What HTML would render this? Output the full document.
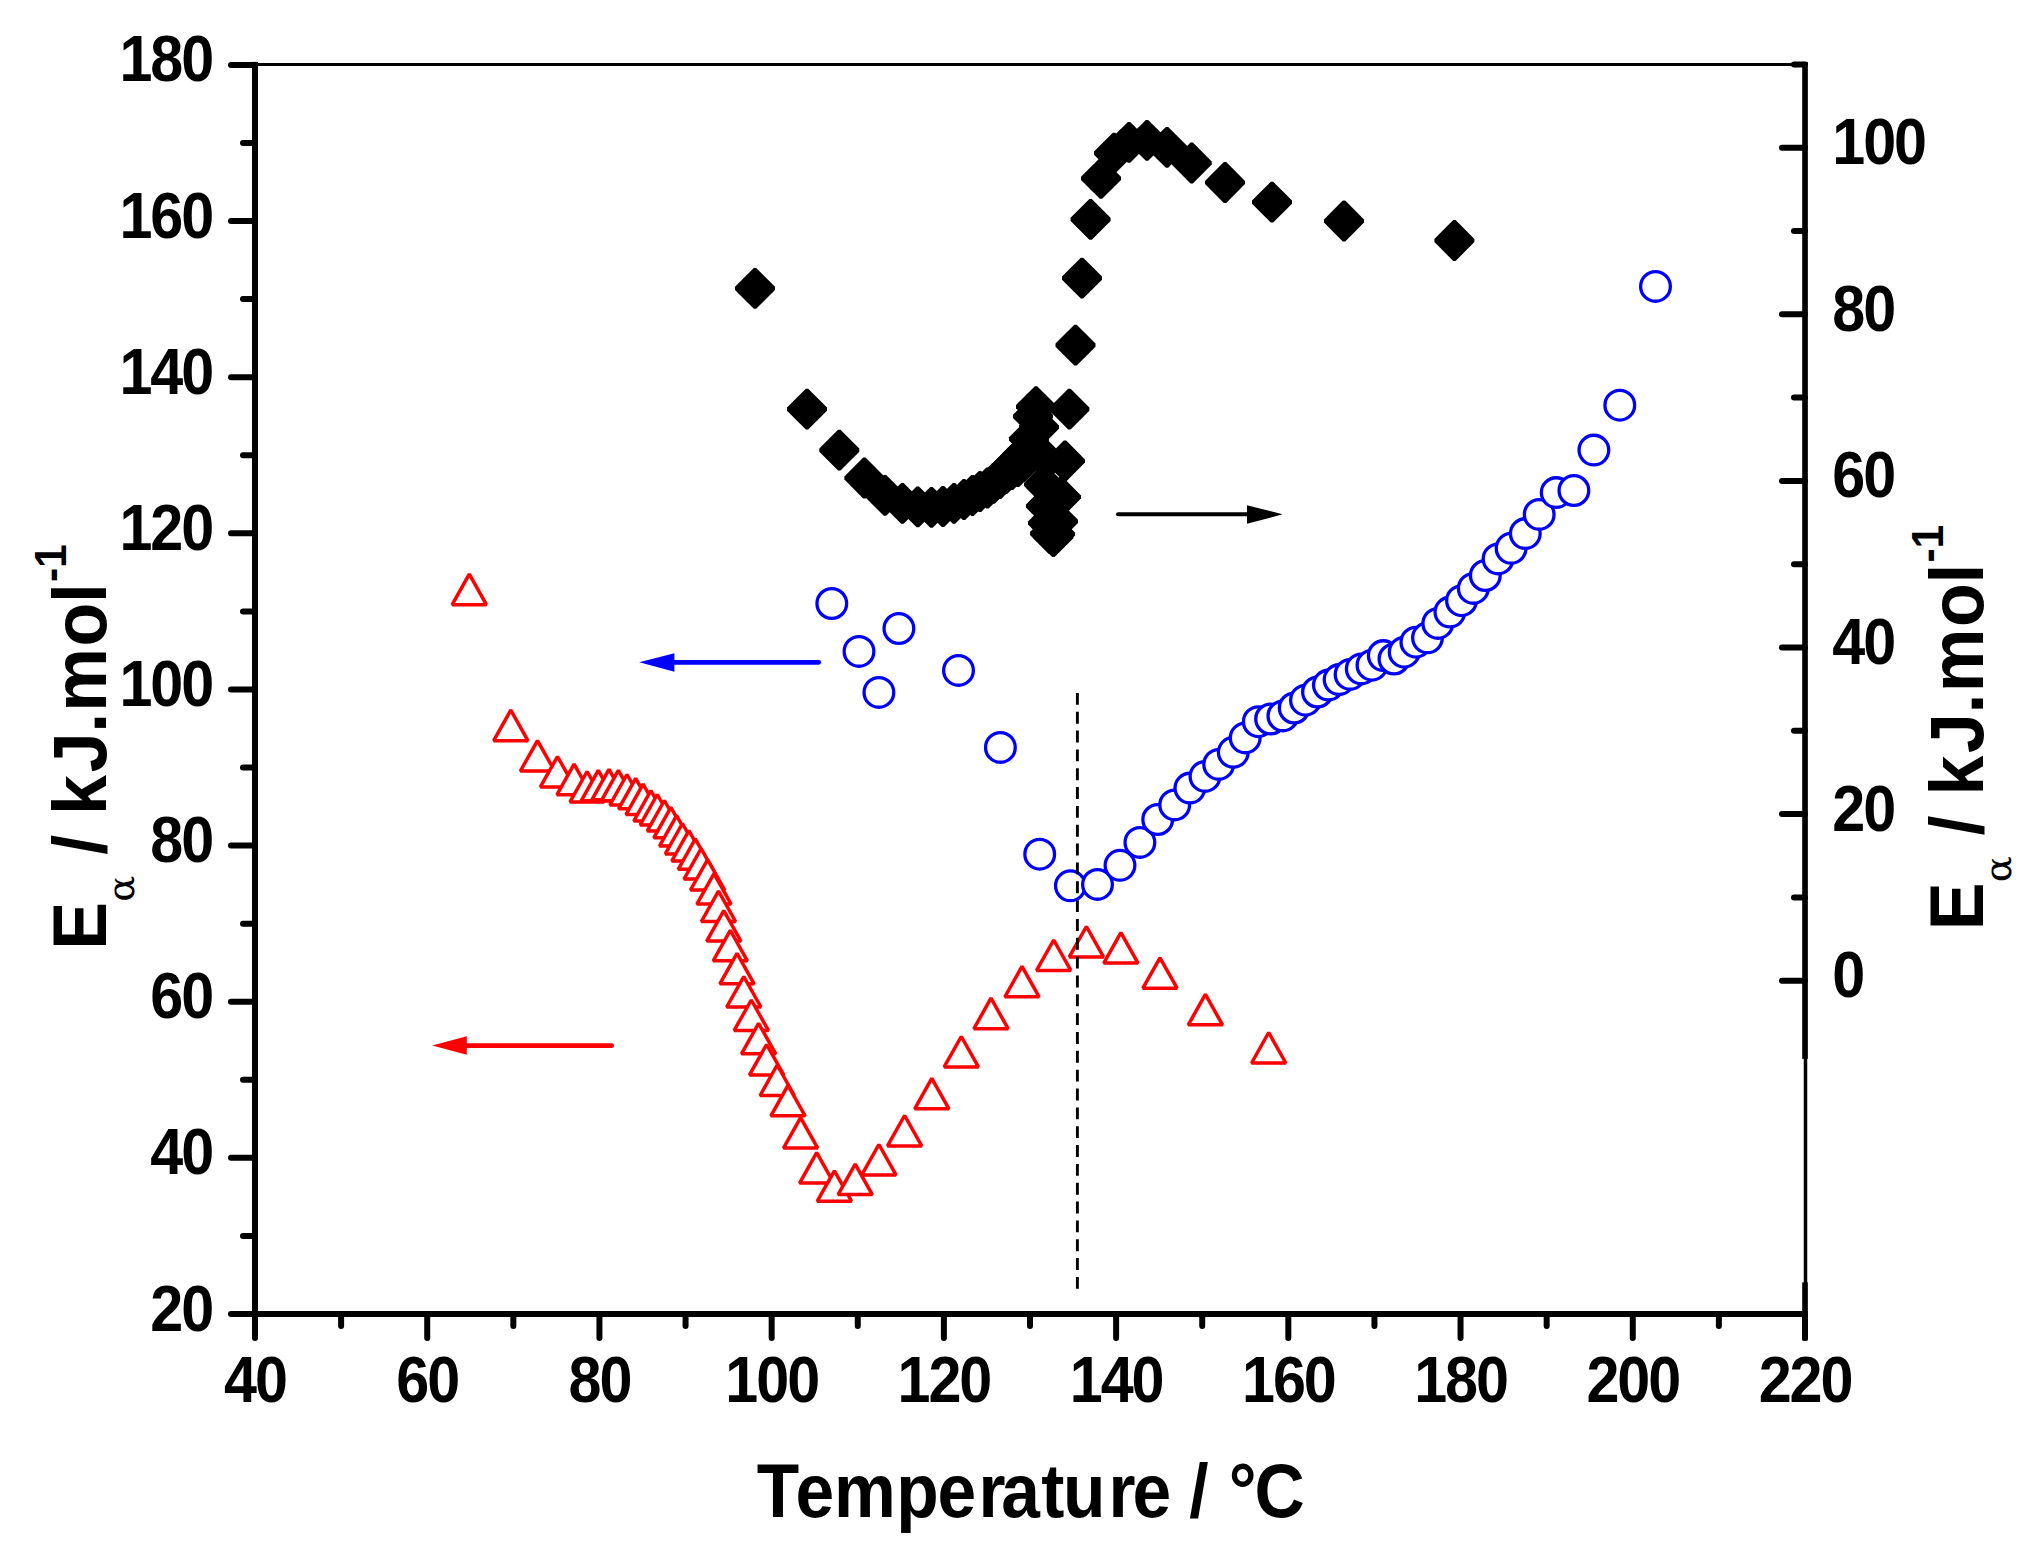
<!DOCTYPE html>
<html><head><meta charset="utf-8"><title>Activation energy vs temperature</title>
<style>
html,body{margin:0;padding:0;background:#fff;}
svg{display:block;}
.lab{font-family:"Liberation Sans",Arial,sans-serif;font-weight:bold;font-size:64.0px;fill:#000;}
.ttl{font-family:"Liberation Sans",Arial,sans-serif;font-weight:bold;font-size:75px;fill:#000;}
.sub{font-family:"DejaVu Serif","Liberation Serif",serif;font-weight:normal;}
.sup{}
</style></head>
<body>
<svg width="2043" height="1552" viewBox="0 0 2043 1552">
<rect width="2043" height="1552" fill="#fff"/>
<line x1="255" y1="64.6" x2="1805" y2="64.6" stroke="#000" stroke-width="3"/>
<line x1="1805.5" y1="62" x2="1805.5" y2="1314" stroke="#000" stroke-width="3.5"/>
<rect x="252" y="61.9" width="6" height="1255.1" fill="#000"/>
<rect x="252" y="1311" width="1556" height="6" fill="#000"/>
<rect x="1802.2" y="61.9" width="5.6" height="997" fill="#000"/>
<rect x="1802.2" y="1282.4" width="5.6" height="58" fill="#000"/>
<line x1="231" y1="1314.00" x2="255" y2="1314.00" stroke="#000" stroke-width="6" stroke-linecap="round"/>
<line x1="243" y1="1235.93" x2="255" y2="1235.93" stroke="#000" stroke-width="6" stroke-linecap="round"/>
<line x1="231" y1="1157.86" x2="255" y2="1157.86" stroke="#000" stroke-width="6" stroke-linecap="round"/>
<line x1="243" y1="1079.79" x2="255" y2="1079.79" stroke="#000" stroke-width="6" stroke-linecap="round"/>
<line x1="231" y1="1001.72" x2="255" y2="1001.72" stroke="#000" stroke-width="6" stroke-linecap="round"/>
<line x1="243" y1="923.65" x2="255" y2="923.65" stroke="#000" stroke-width="6" stroke-linecap="round"/>
<line x1="231" y1="845.59" x2="255" y2="845.59" stroke="#000" stroke-width="6" stroke-linecap="round"/>
<line x1="243" y1="767.52" x2="255" y2="767.52" stroke="#000" stroke-width="6" stroke-linecap="round"/>
<line x1="231" y1="689.45" x2="255" y2="689.45" stroke="#000" stroke-width="6" stroke-linecap="round"/>
<line x1="243" y1="611.38" x2="255" y2="611.38" stroke="#000" stroke-width="6" stroke-linecap="round"/>
<line x1="231" y1="533.31" x2="255" y2="533.31" stroke="#000" stroke-width="6" stroke-linecap="round"/>
<line x1="243" y1="455.24" x2="255" y2="455.24" stroke="#000" stroke-width="6" stroke-linecap="round"/>
<line x1="231" y1="377.17" x2="255" y2="377.17" stroke="#000" stroke-width="6" stroke-linecap="round"/>
<line x1="243" y1="299.10" x2="255" y2="299.10" stroke="#000" stroke-width="6" stroke-linecap="round"/>
<line x1="231" y1="221.03" x2="255" y2="221.03" stroke="#000" stroke-width="6" stroke-linecap="round"/>
<line x1="243" y1="142.97" x2="255" y2="142.97" stroke="#000" stroke-width="6" stroke-linecap="round"/>
<line x1="231" y1="64.90" x2="255" y2="64.90" stroke="#000" stroke-width="6" stroke-linecap="round"/>
<line x1="255.00" y1="1314" x2="255.00" y2="1338" stroke="#000" stroke-width="6" stroke-linecap="round"/>
<line x1="341.11" y1="1314" x2="341.11" y2="1326" stroke="#000" stroke-width="6" stroke-linecap="round"/>
<line x1="427.22" y1="1314" x2="427.22" y2="1338" stroke="#000" stroke-width="6" stroke-linecap="round"/>
<line x1="513.33" y1="1314" x2="513.33" y2="1326" stroke="#000" stroke-width="6" stroke-linecap="round"/>
<line x1="599.44" y1="1314" x2="599.44" y2="1338" stroke="#000" stroke-width="6" stroke-linecap="round"/>
<line x1="685.56" y1="1314" x2="685.56" y2="1326" stroke="#000" stroke-width="6" stroke-linecap="round"/>
<line x1="771.67" y1="1314" x2="771.67" y2="1338" stroke="#000" stroke-width="6" stroke-linecap="round"/>
<line x1="857.78" y1="1314" x2="857.78" y2="1326" stroke="#000" stroke-width="6" stroke-linecap="round"/>
<line x1="943.89" y1="1314" x2="943.89" y2="1338" stroke="#000" stroke-width="6" stroke-linecap="round"/>
<line x1="1030.00" y1="1314" x2="1030.00" y2="1326" stroke="#000" stroke-width="6" stroke-linecap="round"/>
<line x1="1116.11" y1="1314" x2="1116.11" y2="1338" stroke="#000" stroke-width="6" stroke-linecap="round"/>
<line x1="1202.22" y1="1314" x2="1202.22" y2="1326" stroke="#000" stroke-width="6" stroke-linecap="round"/>
<line x1="1288.33" y1="1314" x2="1288.33" y2="1338" stroke="#000" stroke-width="6" stroke-linecap="round"/>
<line x1="1374.44" y1="1314" x2="1374.44" y2="1326" stroke="#000" stroke-width="6" stroke-linecap="round"/>
<line x1="1460.55" y1="1314" x2="1460.55" y2="1338" stroke="#000" stroke-width="6" stroke-linecap="round"/>
<line x1="1546.66" y1="1314" x2="1546.66" y2="1326" stroke="#000" stroke-width="6" stroke-linecap="round"/>
<line x1="1632.78" y1="1314" x2="1632.78" y2="1338" stroke="#000" stroke-width="6" stroke-linecap="round"/>
<line x1="1718.89" y1="1314" x2="1718.89" y2="1326" stroke="#000" stroke-width="6" stroke-linecap="round"/>
<line x1="1805.00" y1="1314" x2="1805.00" y2="1338" stroke="#000" stroke-width="6" stroke-linecap="round"/>
<line x1="1782" y1="980.70" x2="1805" y2="980.70" stroke="#000" stroke-width="6" stroke-linecap="round"/>
<line x1="1794" y1="897.40" x2="1805" y2="897.40" stroke="#000" stroke-width="6" stroke-linecap="round"/>
<line x1="1782" y1="814.10" x2="1805" y2="814.10" stroke="#000" stroke-width="6" stroke-linecap="round"/>
<line x1="1794" y1="730.80" x2="1805" y2="730.80" stroke="#000" stroke-width="6" stroke-linecap="round"/>
<line x1="1782" y1="647.50" x2="1805" y2="647.50" stroke="#000" stroke-width="6" stroke-linecap="round"/>
<line x1="1794" y1="564.20" x2="1805" y2="564.20" stroke="#000" stroke-width="6" stroke-linecap="round"/>
<line x1="1782" y1="480.90" x2="1805" y2="480.90" stroke="#000" stroke-width="6" stroke-linecap="round"/>
<line x1="1794" y1="397.60" x2="1805" y2="397.60" stroke="#000" stroke-width="6" stroke-linecap="round"/>
<line x1="1782" y1="314.30" x2="1805" y2="314.30" stroke="#000" stroke-width="6" stroke-linecap="round"/>
<line x1="1794" y1="231.00" x2="1805" y2="231.00" stroke="#000" stroke-width="6" stroke-linecap="round"/>
<line x1="1782" y1="147.70" x2="1805" y2="147.70" stroke="#000" stroke-width="6" stroke-linecap="round"/>
<line x1="1794" y1="64.40" x2="1805" y2="64.40" stroke="#000" stroke-width="6" stroke-linecap="round"/>
<text transform="translate(212.20,1330.50) scale(0.926,1)" text-anchor="end" class="lab" style="letter-spacing:-2.2px">20</text>
<text transform="translate(212.20,1174.36) scale(0.926,1)" text-anchor="end" class="lab" style="letter-spacing:-2.2px">40</text>
<text transform="translate(212.20,1018.22) scale(0.926,1)" text-anchor="end" class="lab" style="letter-spacing:-2.2px">60</text>
<text transform="translate(212.20,862.09) scale(0.926,1)" text-anchor="end" class="lab" style="letter-spacing:-2.2px">80</text>
<text transform="translate(212.20,705.95) scale(0.926,1)" text-anchor="end" class="lab" style="letter-spacing:-2.2px">100</text>
<text transform="translate(212.20,549.81) scale(0.926,1)" text-anchor="end" class="lab" style="letter-spacing:-2.2px">120</text>
<text transform="translate(212.20,393.67) scale(0.926,1)" text-anchor="end" class="lab" style="letter-spacing:-2.2px">140</text>
<text transform="translate(212.20,237.53) scale(0.926,1)" text-anchor="end" class="lab" style="letter-spacing:-2.2px">160</text>
<text transform="translate(212.20,81.40) scale(0.926,1)" text-anchor="end" class="lab" style="letter-spacing:-2.2px">180</text>
<text transform="translate(255.00,1401.50) scale(0.926,1)" text-anchor="middle" class="lab" style="letter-spacing:-2.2px">40</text>
<text transform="translate(427.22,1401.50) scale(0.926,1)" text-anchor="middle" class="lab" style="letter-spacing:-2.2px">60</text>
<text transform="translate(599.44,1401.50) scale(0.926,1)" text-anchor="middle" class="lab" style="letter-spacing:-2.2px">80</text>
<text transform="translate(771.67,1401.50) scale(0.926,1)" text-anchor="middle" class="lab" style="letter-spacing:-2.2px">100</text>
<text transform="translate(943.89,1401.50) scale(0.926,1)" text-anchor="middle" class="lab" style="letter-spacing:-2.2px">120</text>
<text transform="translate(1116.11,1401.50) scale(0.926,1)" text-anchor="middle" class="lab" style="letter-spacing:-2.2px">140</text>
<text transform="translate(1288.33,1401.50) scale(0.926,1)" text-anchor="middle" class="lab" style="letter-spacing:-2.2px">160</text>
<text transform="translate(1460.55,1401.50) scale(0.926,1)" text-anchor="middle" class="lab" style="letter-spacing:-2.2px">180</text>
<text transform="translate(1632.78,1401.50) scale(0.926,1)" text-anchor="middle" class="lab" style="letter-spacing:-2.2px">200</text>
<text transform="translate(1805.00,1401.50) scale(0.926,1)" text-anchor="middle" class="lab" style="letter-spacing:-2.2px">220</text>
<text transform="translate(1832.30,997.10) scale(0.926,1)" text-anchor="start" class="lab" style="letter-spacing:-2.2px">0</text>
<text transform="translate(1832.30,830.50) scale(0.926,1)" text-anchor="start" class="lab" style="letter-spacing:-2.2px">20</text>
<text transform="translate(1832.30,663.90) scale(0.926,1)" text-anchor="start" class="lab" style="letter-spacing:-2.2px">40</text>
<text transform="translate(1832.30,497.30) scale(0.926,1)" text-anchor="start" class="lab" style="letter-spacing:-2.2px">60</text>
<text transform="translate(1832.30,330.70) scale(0.926,1)" text-anchor="start" class="lab" style="letter-spacing:-2.2px">80</text>
<text transform="translate(1832.30,164.10) scale(0.926,1)" text-anchor="start" class="lab" style="letter-spacing:-2.2px">100</text>
<text transform="translate(0,1517) scale(0.919,1)" class="ttl" style="font-size:75.6px"><tspan x="823.41">T</tspan><tspan x="865.63">e</tspan><tspan x="907.43">m</tspan><tspan x="975.26">p</tspan><tspan x="1020.09">e</tspan><tspan x="1064.71">r</tspan><tspan x="1089.49">a</tspan><tspan x="1133.17">t</tspan><tspan x="1156.82">u</tspan><tspan x="1206.33">r</tspan><tspan x="1232.27">e</tspan><tspan x="1273.17"> /</tspan><tspan x="1316.18"> °</tspan><tspan x="1365.00">C</tspan></text>
<g transform="rotate(-90) scale(0.95,1)"><text class="ttl" style="font-size:75.6px" y="106.00"><tspan x="-999.74">E</tspan><tspan x="-920.82"> /</tspan><tspan x="-878.81"> k</tspan><tspan x="-813.01">J</tspan><tspan x="-771.36">.</tspan><tspan x="-749.23">m</tspan><tspan x="-680.41">o</tspan><tspan x="-634.62">l</tspan><tspan class="sup" style="font-size:44.9px" x="-612.66" y="66.50">-</tspan><tspan class="sup" style="font-size:44.9px" x="-597.77" y="66.50">1</tspan></text></g><g transform="rotate(-90) scale(1.1,1)"><text class="sub" style="font-size:35.0px" x="-819.72" y="133.80">α</text></g>
<g transform="rotate(-90) scale(0.95,1)"><text class="ttl" style="font-size:75.6px" y="1982.90"><tspan x="-979.32">E</tspan><tspan x="-900.40"> /</tspan><tspan x="-858.39"> k</tspan><tspan x="-792.59">J</tspan><tspan x="-750.94">.</tspan><tspan x="-728.81">m</tspan><tspan x="-659.98">o</tspan><tspan x="-614.20">l</tspan><tspan class="sup" style="font-size:44.9px" x="-592.24" y="1943.40">-</tspan><tspan class="sup" style="font-size:44.9px" x="-577.35" y="1943.40">1</tspan></text></g><g transform="rotate(-90) scale(1.1,1)"><text class="sub" style="font-size:35.0px" x="-802.08" y="2010.70">α</text></g>
<path d="M753.8 268.0L756.2 268.0L775.0 286.8L775.0 290.0L756.2 308.8L753.8 308.8L735.0 290.0L735.0 286.8Z"/>
<path d="M805.8 388.8L808.2 388.8L827.0 407.6L827.0 410.8L808.2 429.6L805.8 429.6L787.0 410.8L787.0 407.6Z"/>
<path d="M838.1 429.8L840.5 429.8L859.3 448.6L859.3 451.8L840.5 470.6L838.1 470.6L819.3 451.8L819.3 448.6Z"/>
<path d="M863.2 457.6L865.6 457.6L884.4 476.4L884.4 479.6L865.6 498.4L863.2 498.4L844.4 479.6L844.4 476.4Z"/>
<path d="M883.8 475.0L886.2 475.0L905.0 493.8L905.0 497.0L886.2 515.8L883.8 515.8L865.0 497.0L865.0 493.8Z"/>
<path d="M901.2 483.0L903.6 483.0L922.4 501.8L922.4 505.0L903.6 523.8L901.2 523.8L882.4 505.0L882.4 501.8Z"/>
<path d="M916.6 486.4L919.0 486.4L937.8 505.2L937.8 508.4L919.0 527.2L916.6 527.2L897.8 508.4L897.8 505.2Z"/>
<path d="M930.3 487.0L932.7 487.0L951.5 505.8L951.5 509.0L932.7 527.8L930.3 527.8L911.5 509.0L911.5 505.8Z"/>
<path d="M941.8 486.1L944.2 486.1L963.0 504.9L963.0 508.1L944.2 526.9L941.8 526.9L923.0 508.1L923.0 504.9Z"/>
<path d="M952.8 483.0L955.2 483.0L974.0 501.8L974.0 505.0L955.2 523.8L952.8 523.8L934.0 505.0L934.0 501.8Z"/>
<path d="M962.8 479.1L965.2 479.1L984.0 497.9L984.0 501.1L965.2 519.9L962.8 519.9L944.0 501.1L944.0 497.9Z"/>
<path d="M971.3 475.1L973.7 475.1L992.5 493.9L992.5 497.1L973.7 515.9L971.3 515.9L952.5 497.1L952.5 493.9Z"/>
<path d="M978.8 471.1L981.2 471.1L1000.0 489.9L1000.0 493.1L981.2 511.9L978.8 511.9L960.0 493.1L960.0 489.9Z"/>
<path d="M986.3 467.6L988.7 467.6L1007.5 486.4L1007.5 489.6L988.7 508.4L986.3 508.4L967.5 489.6L967.5 486.4Z"/>
<path d="M992.3 462.9L994.7 462.9L1013.5 481.7L1013.5 484.9L994.7 503.7L992.3 503.7L973.5 484.9L973.5 481.7Z"/>
<path d="M998.8 457.1L1001.2 457.1L1020.0 475.9L1020.0 479.1L1001.2 497.9L998.8 497.9L980.0 479.1L980.0 475.9Z"/>
<path d="M998.8 458.1L1001.2 458.1L1020.0 476.9L1020.0 480.1L1001.2 498.9L998.8 498.9L980.0 480.1L980.0 476.9Z"/>
<path d="M1004.8 451.1L1007.2 451.1L1026.0 469.9L1026.0 473.1L1007.2 491.9L1004.8 491.9L986.0 473.1L986.0 469.9Z"/>
<path d="M1004.8 453.1L1007.2 453.1L1026.0 471.9L1026.0 475.1L1007.2 493.9L1004.8 493.9L986.0 475.1L986.0 471.9Z"/>
<path d="M1010.8 445.1L1013.2 445.1L1032.0 463.9L1032.0 467.1L1013.2 485.9L1010.8 485.9L992.0 467.1L992.0 463.9Z"/>
<path d="M1010.8 449.1L1013.2 449.1L1032.0 467.9L1032.0 471.1L1013.2 489.9L1010.8 489.9L992.0 471.1L992.0 467.9Z"/>
<path d="M1016.8 439.1L1019.2 439.1L1038.0 457.9L1038.0 461.1L1019.2 479.9L1016.8 479.9L998.0 461.1L998.0 457.9Z"/>
<path d="M1016.8 446.1L1019.2 446.1L1038.0 464.9L1038.0 468.1L1019.2 486.9L1016.8 486.9L998.0 468.1L998.0 464.9Z"/>
<path d="M1022.8 440.9L1025.2 440.9L1044.0 459.7L1044.0 462.9L1025.2 481.7L1022.8 481.7L1004.0 462.9L1004.0 459.7Z"/>
<path d="M1021.8 433.6L1024.2 433.6L1043.0 452.4L1043.0 455.6L1024.2 474.4L1021.8 474.4L1003.0 455.6L1003.0 452.4Z"/>
<path d="M1027.8 418.4L1030.2 418.4L1049.0 437.2L1049.0 440.4L1030.2 459.2L1027.8 459.2L1009.0 440.4L1009.0 437.2Z"/>
<path d="M1031.8 395.9L1034.2 395.9L1053.0 414.7L1053.0 417.9L1034.2 436.7L1031.8 436.7L1013.0 417.9L1013.0 414.7Z"/>
<path d="M1034.8 386.2L1037.2 386.2L1056.0 405.0L1056.0 408.2L1037.2 427.0L1034.8 427.0L1016.0 408.2L1016.0 405.0Z"/>
<path d="M1037.8 406.8L1040.2 406.8L1059.0 425.6L1059.0 428.8L1040.2 447.6L1037.8 447.6L1019.0 428.8L1019.0 425.6Z"/>
<path d="M1044.8 439.6L1047.2 439.6L1066.0 458.4L1066.0 461.6L1047.2 480.4L1044.8 480.4L1026.0 461.6L1026.0 458.4Z"/>
<path d="M1042.8 464.1L1045.2 464.1L1064.0 482.9L1064.0 486.1L1045.2 504.9L1042.8 504.9L1024.0 486.1L1024.0 482.9Z"/>
<path d="M1044.8 485.6L1047.2 485.6L1066.0 504.4L1066.0 507.6L1047.2 526.4L1044.8 526.4L1026.0 507.6L1026.0 504.4Z"/>
<path d="M1046.8 502.6L1049.2 502.6L1068.0 521.4L1068.0 524.6L1049.2 543.4L1046.8 543.4L1028.0 524.6L1028.0 521.4Z"/>
<path d="M1048.8 513.1L1051.2 513.1L1070.0 531.9L1070.0 535.1L1051.2 553.9L1048.8 553.9L1030.0 535.1L1030.0 531.9Z"/>
<path d="M1052.2 516.3L1054.6 516.3L1073.4 535.1L1073.4 538.3L1054.6 557.1L1052.2 557.1L1033.4 538.3L1033.4 535.1Z"/>
<path d="M1053.8 513.6L1056.2 513.6L1075.0 532.4L1075.0 535.6L1056.2 554.4L1053.8 554.4L1035.0 535.6L1035.0 532.4Z"/>
<path d="M1056.8 501.0L1059.2 501.0L1078.0 519.8L1078.0 523.0L1059.2 541.8L1056.8 541.8L1038.0 523.0L1038.0 519.8Z"/>
<path d="M1059.8 476.6L1062.2 476.6L1081.0 495.4L1081.0 498.6L1062.2 517.4L1059.8 517.4L1041.0 498.6L1041.0 495.4Z"/>
<path d="M1063.8 440.6L1066.2 440.6L1085.0 459.4L1085.0 462.6L1066.2 481.4L1063.8 481.4L1045.0 462.6L1045.0 459.4Z"/>
<path d="M1068.2 388.7L1070.6 388.7L1089.4 407.5L1089.4 410.7L1070.6 429.5L1068.2 429.5L1049.4 410.7L1049.4 407.5Z"/>
<path d="M1074.3 324.8L1076.7 324.8L1095.5 343.6L1095.5 346.8L1076.7 365.6L1074.3 365.6L1055.5 346.8L1055.5 343.6Z"/>
<path d="M1080.8 257.8L1083.2 257.8L1102.0 276.6L1102.0 279.8L1083.2 298.6L1080.8 298.6L1062.0 279.8L1062.0 276.6Z"/>
<path d="M1089.4 198.9L1091.8 198.9L1110.6 217.7L1110.6 220.9L1091.8 239.7L1089.4 239.7L1070.6 220.9L1070.6 217.7Z"/>
<path d="M1099.8 158.0L1102.2 158.0L1121.0 176.8L1121.0 180.0L1102.2 198.8L1099.8 198.8L1081.0 180.0L1081.0 176.8Z"/>
<path d="M1112.8 132.8L1115.2 132.8L1134.0 151.6L1134.0 154.8L1115.2 173.6L1112.8 173.6L1094.0 154.8L1094.0 151.6Z"/>
<path d="M1127.8 121.9L1130.2 121.9L1149.0 140.7L1149.0 143.9L1130.2 162.7L1127.8 162.7L1109.0 143.9L1109.0 140.7Z"/>
<path d="M1145.8 119.9L1148.2 119.9L1167.0 138.7L1167.0 141.9L1148.2 160.7L1145.8 160.7L1127.0 141.9L1127.0 138.7Z"/>
<path d="M1165.8 127.0L1168.2 127.0L1187.0 145.8L1187.0 149.0L1168.2 167.8L1165.8 167.8L1147.0 149.0L1147.0 145.8Z"/>
<path d="M1190.5 142.6L1192.9 142.6L1211.7 161.4L1211.7 164.6L1192.9 183.4L1190.5 183.4L1171.7 164.6L1171.7 161.4Z"/>
<path d="M1223.8 162.1L1226.2 162.1L1245.0 180.9L1245.0 184.1L1226.2 202.9L1223.8 202.9L1205.0 184.1L1205.0 180.9Z"/>
<path d="M1270.8 181.8L1273.2 181.8L1292.0 200.6L1292.0 203.8L1273.2 222.6L1270.8 222.6L1252.0 203.8L1252.0 200.6Z"/>
<path d="M1342.8 200.6L1345.2 200.6L1364.0 219.4L1364.0 222.6L1345.2 241.4L1342.8 241.4L1324.0 222.6L1324.0 219.4Z"/>
<path d="M1453.2 220.1L1455.6 220.1L1474.4 238.9L1474.4 242.1L1455.6 260.9L1453.2 260.9L1434.4 242.1L1434.4 238.9Z"/>
<g fill="#fff" stroke="#00f" stroke-width="3.3">
<circle cx="831.8" cy="603.5" r="14.85"/>
<circle cx="859.0" cy="651.4" r="14.85"/>
<circle cx="878.9" cy="692.4" r="14.85"/>
<circle cx="898.9" cy="628.5" r="14.85"/>
<circle cx="958.5" cy="670.4" r="14.85"/>
<circle cx="1000.4" cy="747.4" r="14.85"/>
<circle cx="1039.7" cy="854.2" r="14.85"/>
<circle cx="1070.4" cy="885.8" r="14.85"/>
<circle cx="1097.5" cy="884.4" r="14.85"/>
<circle cx="1120.0" cy="865.3" r="14.85"/>
<circle cx="1139.9" cy="842.4" r="14.85"/>
<circle cx="1157.7" cy="819.5" r="14.85"/>
<circle cx="1174.7" cy="804.9" r="14.85"/>
<circle cx="1189.9" cy="788.1" r="14.85"/>
<circle cx="1205.0" cy="776.4" r="14.85"/>
<circle cx="1218.7" cy="764.4" r="14.85"/>
<circle cx="1233.3" cy="752.3" r="14.85"/>
<circle cx="1245.2" cy="737.9" r="14.85"/>
<circle cx="1258.3" cy="721.7" r="14.85"/>
<circle cx="1270.6" cy="719.0" r="14.85"/>
<circle cx="1282.9" cy="715.9" r="14.85"/>
<circle cx="1294.2" cy="708.0" r="14.85"/>
<circle cx="1305.5" cy="700.2" r="14.85"/>
<circle cx="1317.5" cy="692.0" r="14.85"/>
<circle cx="1328.4" cy="685.1" r="14.85"/>
<circle cx="1339.1" cy="679.6" r="14.85"/>
<circle cx="1350.1" cy="674.4" r="14.85"/>
<circle cx="1361.3" cy="668.9" r="14.85"/>
<circle cx="1372.0" cy="665.2" r="14.85"/>
<circle cx="1383.3" cy="655.6" r="14.85"/>
<circle cx="1394.0" cy="659.0" r="14.85"/>
<circle cx="1404.2" cy="652.2" r="14.85"/>
<circle cx="1415.9" cy="642.2" r="14.85"/>
<circle cx="1427.5" cy="637.8" r="14.85"/>
<circle cx="1437.8" cy="623.4" r="14.85"/>
<circle cx="1449.9" cy="612.1" r="14.85"/>
<circle cx="1461.5" cy="600.7" r="14.85"/>
<circle cx="1473.3" cy="588.4" r="14.85"/>
<circle cx="1485.3" cy="575.5" r="14.85"/>
<circle cx="1498.1" cy="558.9" r="14.85"/>
<circle cx="1511.1" cy="548.3" r="14.85"/>
<circle cx="1525.3" cy="533.6" r="14.85"/>
<circle cx="1539.2" cy="514.4" r="14.85"/>
<circle cx="1556.2" cy="492.6" r="14.85"/>
<circle cx="1573.9" cy="490.5" r="14.85"/>
<circle cx="1593.9" cy="450.1" r="14.85"/>
<circle cx="1619.8" cy="405.2" r="14.85"/>
<circle cx="1655.5" cy="286.4" r="14.85"/>
</g>
<g fill="#fff" stroke="#f00" stroke-width="3.5" stroke-linejoin="bevel">
<path d="M469.3 574.2L486.4 604.7L452.2 604.7Z"/>
<path d="M510.8 710.2L527.9 740.7L493.7 740.7Z"/>
<path d="M537.5 740.6L554.6 771.0L520.4 771.0Z"/>
<path d="M557.5 756.5L574.6 786.9L540.4 786.9Z"/>
<path d="M574.1 764.2L591.2 794.7L557.0 794.7Z"/>
<path d="M587.1 771.5L604.2 801.9L570.0 801.9Z"/>
<path d="M598.3 770.4L615.4 800.8L581.2 800.8Z"/>
<path d="M609.0 769.4L626.1 799.8L591.9 799.8Z"/>
<path d="M618.4 770.4L635.5 800.8L601.3 800.8Z"/>
<path d="M627.0 774.5L644.1 804.9L609.9 804.9Z"/>
<path d="M635.7 778.4L652.8 808.8L618.6 808.8Z"/>
<path d="M643.1 784.2L660.2 814.6L626.0 814.6Z"/>
<path d="M650.9 790.6L668.0 821.0L633.8 821.0Z"/>
<path d="M657.3 794.5L674.4 824.9L640.2 824.9Z"/>
<path d="M664.4 800.5L681.5 830.9L647.3 830.9Z"/>
<path d="M670.9 807.4L688.0 837.8L653.8 837.8Z"/>
<path d="M676.6 815.7L693.7 846.1L659.5 846.1Z"/>
<path d="M682.4 823.5L699.5 853.9L665.3 853.9Z"/>
<path d="M688.9 830.6L706.0 861.0L671.8 861.0Z"/>
<path d="M695.3 838.9L712.4 869.3L678.2 869.3Z"/>
<path d="M701.1 848.6L718.2 879.0L684.0 879.0Z"/>
<path d="M707.6 859.6L724.7 890.0L690.5 890.0Z"/>
<path d="M714.0 873.7L731.1 904.1L696.9 904.1Z"/>
<path d="M718.5 891.1L735.6 921.5L701.4 921.5Z"/>
<path d="M723.8 910.7L740.9 941.1L706.7 941.1Z"/>
<path d="M730.3 930.4L747.4 960.8L713.2 960.8Z"/>
<path d="M737.0 953.4L754.1 983.8L719.9 983.8Z"/>
<path d="M743.8 976.6L760.9 1007.0L726.7 1007.0Z"/>
<path d="M751.3 1000.0L768.4 1030.4L734.2 1030.4Z"/>
<path d="M758.6 1023.4L775.7 1053.8L741.5 1053.8Z"/>
<path d="M766.6 1044.5L783.7 1074.9L749.5 1074.9Z"/>
<path d="M777.2 1065.0L794.3 1095.5L760.1 1095.5Z"/>
<path d="M788.0 1085.4L805.1 1115.8L770.9 1115.8Z"/>
<path d="M800.6 1117.7L817.7 1148.1L783.5 1148.1Z"/>
<path d="M816.7 1152.7L833.8 1183.1L799.6 1183.1Z"/>
<path d="M834.4 1170.8L851.5 1201.2L817.3 1201.2Z"/>
<path d="M855.2 1164.2L872.3 1194.6L838.1 1194.6Z"/>
<path d="M878.9 1144.5L896.0 1174.9L861.8 1174.9Z"/>
<path d="M904.6 1115.5L921.7 1145.9L887.5 1145.9Z"/>
<path d="M931.8 1078.4L948.9 1108.8L914.7 1108.8Z"/>
<path d="M961.3 1036.5L978.4 1066.9L944.2 1066.9Z"/>
<path d="M991.0 998.2L1008.1 1028.7L973.9 1028.7Z"/>
<path d="M1022.0 966.4L1039.1 996.8L1004.9 996.8Z"/>
<path d="M1053.7 940.0L1070.8 970.4L1036.6 970.4Z"/>
<path d="M1086.4 926.5L1103.5 956.9L1069.3 956.9Z"/>
<path d="M1120.9 932.7L1138.0 963.1L1103.8 963.1Z"/>
<path d="M1160.0 957.8L1177.1 988.2L1142.9 988.2Z"/>
<path d="M1205.4 994.4L1222.5 1024.8L1188.3 1024.8Z"/>
<path d="M1268.7 1032.5L1285.8 1063.0L1251.6 1063.0Z"/>
</g>
<line x1="1077.4" y1="692.9" x2="1077.4" y2="1289" stroke="#000" stroke-width="2.9" stroke-dasharray="11.9 6.94"/>
<line x1="1118" y1="514.2" x2="1250" y2="514.2" stroke="#000" stroke-width="4" stroke-linecap="round"/>
<path d="M1247 505.2L1282.6 514.3L1247 523.8Z" fill="#000"/>
<line x1="672" y1="662.3" x2="818.7" y2="662.3" stroke="#00f" stroke-width="4.7" stroke-linecap="round"/>
<path d="M674.4 653.2L639.2 662.3L674.4 671.8Z" fill="#00f"/>
<line x1="464" y1="1045.6" x2="611.7" y2="1045.6" stroke="#f00" stroke-width="4.7" stroke-linecap="round"/>
<path d="M466.8 1036.2L432.2 1045.6L466.8 1054.8Z" fill="#f00"/>
</svg>
</body></html>
